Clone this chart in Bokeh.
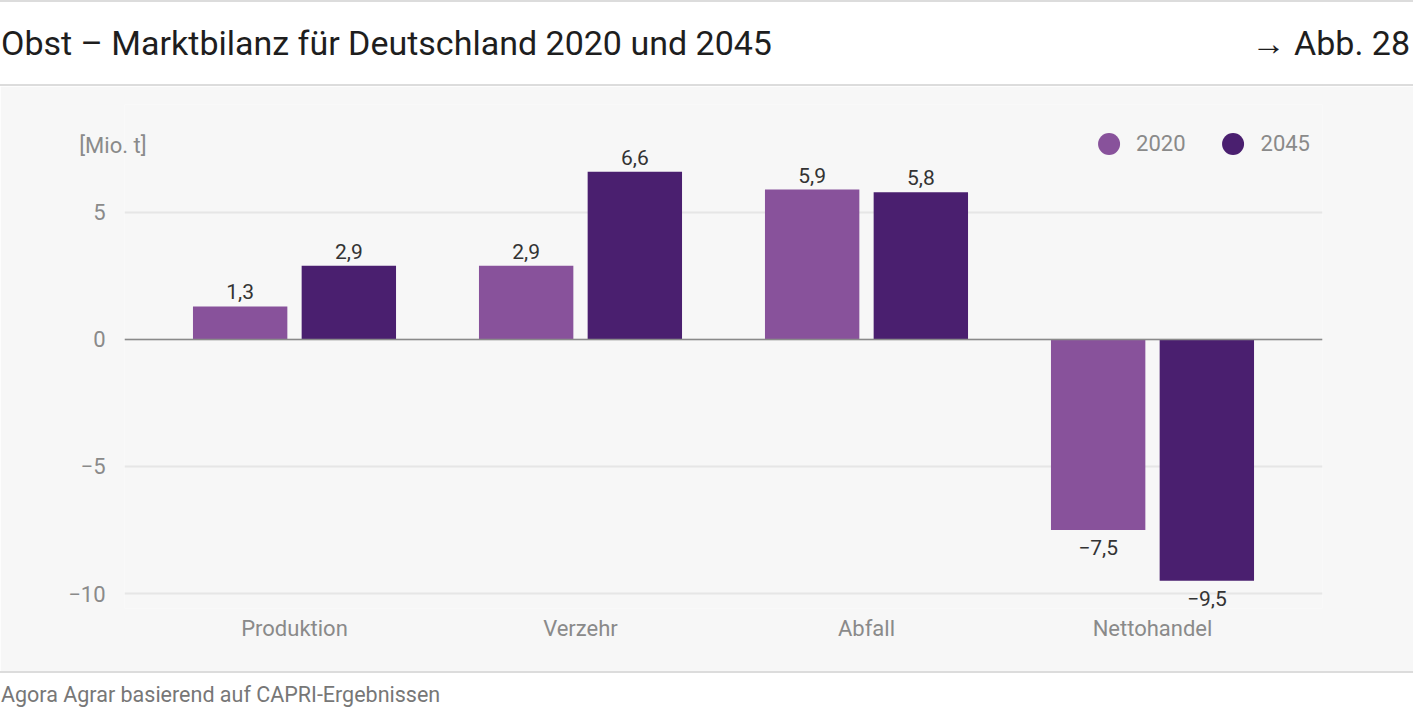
from bokeh.plotting import figure
from bokeh.models import (FactorRange, Range1d, ColumnDataSource, Legend, LegendItem,
                          Span, Div, FixedTicker, CustomJSTickFormatter, LinearAxis)
from bokeh.layouts import column
from bokeh.transform import dodge
from bokeh.core.properties import value
from bokeh.embed import file_html
from bokeh.resources import INLINE

# ---- data ----
categories = ["Produktion", "Verzehr", "Abfall", "Nettohandel"]
years = ["2020", "2045"]
values_2020 = [1.3, 2.9, 5.9, -7.5]
values_2045 = [2.9, 6.6, 5.8, -9.5]
y_ticks = [-10, -5, 0, 5]

title_text = "Obst \u2013 Marktbilanz f\u00fcr Deutschland 2020 und 2045"
fig_ref = "\u2192 Abb. 28"
unit_text = "[Mio. t]"
source_text = "Agora Agrar basierend auf CAPRI-Ergebnissen"

colors = {"2020": "#88529b", "2045": "#4a1f6f"}
FONT = "Roboto"

Y_START, Y_END = -10.59, 9.25
UNIT_Y = 7.64  # vertical position of the unit caption (axis units)


def fmt(v):
    s = f"{abs(v):.1f}".replace(".", ",")
    return ("\u2212" if v < 0 else "") + s


W = 1413
p = figure(
    x_range=FactorRange(factors=categories, range_padding=0.0472, range_padding_units="percent"),
    y_range=Range1d(Y_START, Y_END),
    width=W, height=585,
    output_backend="svg", toolbar_location=None,
    min_border_left=124, min_border_right=91, min_border_top=18, min_border_bottom=63,
    background_fill_color="#f7f7f7", border_fill_color="#f7f7f7",
    outline_line_color=None, margin=0,
)
p.extra_y_ranges = {"unit": Range1d(Y_START, Y_END)}

offsets = {"2020": -0.19, "2045": 0.19}
renderers = {}
for yr, vals in zip(years, [values_2020, values_2045]):
    src = ColumnDataSource(dict(
        x=categories,
        top=vals,
        label=[fmt(v) for v in vals],
        baseline=["bottom" if v >= 0 else "top" for v in vals],
        yoff=[-7 if v >= 0 else 10 for v in vals],
    ))
    p.vbar(x=dodge("x", offsets[yr], range=p.x_range), top="top", width=0.33,
           source=src, fill_color=colors[yr], line_color=None)
    p.text(x=dodge("x", offsets[yr], range=p.x_range), y="top", text="label",
           text_baseline="baseline", y_offset="yoff", text_align="center",
           text_font=value(FONT), text_font_size="21px", text_color="#333333",
           source=src)
    renderers[yr] = p.scatter(x=[categories[0]], y=[float("nan")], marker="circle",
                              fill_color=colors[yr], line_color=None, size=22)

# zero line
p.add_layout(Span(location=0, dimension="width", line_color="#8a8a8a", line_width=1.5))

# grid
p.xgrid.visible = False
p.ygrid.grid_line_color = "#e6e6e6"
p.ygrid.grid_line_width = 2
p.ygrid.ticker = FixedTicker(ticks=y_ticks)

# axes
p.yaxis.ticker = FixedTicker(ticks=y_ticks)
p.yaxis.formatter = CustomJSTickFormatter(code="return tick < 0 ? '\\u2212' + Math.abs(tick) : '' + tick;")

unit_axis = LinearAxis(y_range_name="unit", ticker=FixedTicker(ticks=[UNIT_Y]),
                       formatter=CustomJSTickFormatter(code=f"return '{unit_text}';"))
p.add_layout(unit_axis, "left")

for ax in (p.xaxis[0], p.yaxis[0], unit_axis):
    ax.axis_line_color = None
    ax.major_tick_line_color = None
    ax.minor_tick_line_color = None
    ax.major_label_text_color = "#8a8a8a"
    ax.major_label_text_font = FONT
    ax.major_label_text_font_size = "22px"
p.yaxis[0].major_label_standoff = 13
p.xaxis[0].major_label_standoff = 1
unit_axis.major_tick_out = 0
unit_axis.major_label_standoff = -81

# legend
legend = Legend(
    items=[LegendItem(label=yr, renderers=[renderers[yr]]) for yr in years],
    orientation="horizontal", location="top_right",
    glyph_width=55, glyph_height=55, label_standoff=0, spacing=20,
    margin=12, padding=0, background_fill_alpha=0, border_line_color=None,
    label_text_font=FONT, label_text_font_size="22px", label_text_color="#8a8a8a",
)
p.add_layout(legend)

header = Div(
    width=W, height=86, margin=0,
    text=(
        f'<div style="position:relative;box-sizing:border-box;width:{W}px;height:86px;'
        f'border-top:2px solid #dcdcdc;border-bottom:2px solid #dcdcdc;'
        f'font-family:{FONT};font-size:34px;color:#1e1e1e;">'
        f'<span style="position:absolute;left:1px;top:21px;line-height:40px;white-space:nowrap;">{title_text}</span>'
        f'<span style="position:absolute;right:3px;top:21px;line-height:40px;white-space:nowrap;">{fig_ref}</span>'
        '</div>'
    ),
)

footer = Div(
    width=W, height=52, margin=0,
    text=(
        f'<div style="position:relative;box-sizing:border-box;width:{W}px;height:52px;'
        f'border-top:2px solid #dcdcdc;'
        f'font-family:{FONT};font-size:21.5px;color:#777777;">'
        f'<span style="position:absolute;left:1px;top:9px;line-height:26px;white-space:nowrap;">{source_text}</span>'
        '</div>'
    ),
)

layout = column(header, p, footer, spacing=0, margin=0)
open("out.html", "w").write(file_html(layout, INLINE))
